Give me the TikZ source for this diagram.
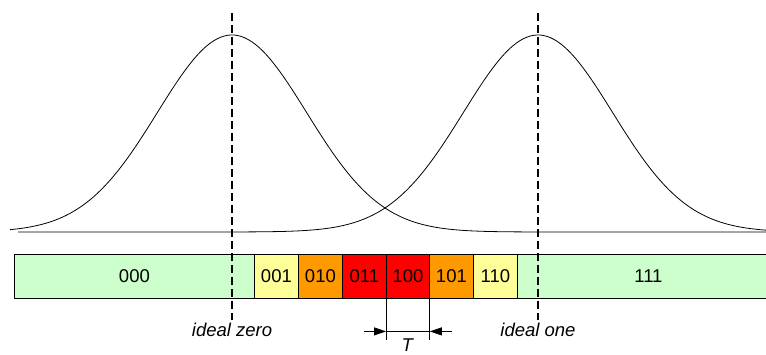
\documentclass[tikz,border=0pt]{standalone}
\usepackage{fontspec}
\setmainfont{Liberation Sans}
\usetikzlibrary{arrows.meta}
\definecolor{bitgreen}{HTML}{CCFFCC}
\definecolor{bityellow}{HTML}{FFFF99}
\definecolor{bitorange}{HTML}{FF9900}
\definecolor{bitred}{HTML}{FF0000}

\begin{document}
\begin{tikzpicture}[x=1pt,y=-1pt,>={Triangle[length=12pt,width=8pt]},line join=round,
	font=\fontsize{18.5}{22}\selectfont,
	cell/.style={draw,line width=0.8pt,minimum height=44pt,inner sep=0pt,anchor=west},
	ideal/.style={line width=1.6pt,dash pattern=on 8pt off 4pt}]
	\useasboundingbox (0,0) rectangle (766,354);
	\def \mz{232} \def \mo{538} \def \sg{74.6} \def \pk{197} \def \bl{232}
	
	% the two bell curves
	\draw[line width=0.8pt,domain=10:766,samples=220,smooth] plot (\x,{\bl-\pk*exp(-0.5*((\x-\mz)/\sg)*((\x-\mz)/\sg))});
	\draw[line width=0.8pt,domain=18:766,samples=220,smooth] plot (\x,{\bl-\pk*exp(-0.5*((\x-\mo)/\sg)*((\x-\mo)/\sg))});
	
	% bit cells
	\foreach \lbl/\col/\xa/\w in {000/bitgreen/14/240, 001/bityellow/254/44, 010/bitorange/298/44,
		011/bitred/342/44, 100/bitred/386/43, 101/bitorange/429/44, 110/bityellow/473/44, 111/bitgreen/517/262}
		\node[cell,fill=\col,minimum width=\w pt] (c\lbl) at (\xa,276) {\lbl};
	
	% ideal levels
	\coordinate (Z) at (\mz,13);
	\coordinate (Z') at (\mz,320);
	\coordinate (O) at (\mo,13);
	\coordinate (O') at (\mo,320);
	\draw[ideal] (Z) -- (Z');
	\draw[ideal] (O) -- (O');
	\node (lz) at (\mz,330) {\textit{ideal zero}};
	\node (lo) at (\mo,330) {\textit{ideal one}};
	
	% bit period
	\draw[line width=0.8pt] (c100.south west) -- ++(0,42);
	\draw[line width=0.8pt] (c100.south east) -- ++(0,42);
	\coordinate (ta) at ([yshift=-33pt]c100.south west);
	\coordinate (tb) at ([yshift=-33pt]c100.south east);
	\draw[line width=0.8pt] (ta) -- (tb);
	\draw[line width=0.8pt,->] ([xshift=-22pt]ta) -- (ta);
	\draw[line width=0.8pt,->] ([xshift=22pt]tb) -- (tb);
	\node[anchor=base] (tau) at ([yshift=-53pt]c100.south) {\textit{T}};
\end{tikzpicture}
\end{document}
